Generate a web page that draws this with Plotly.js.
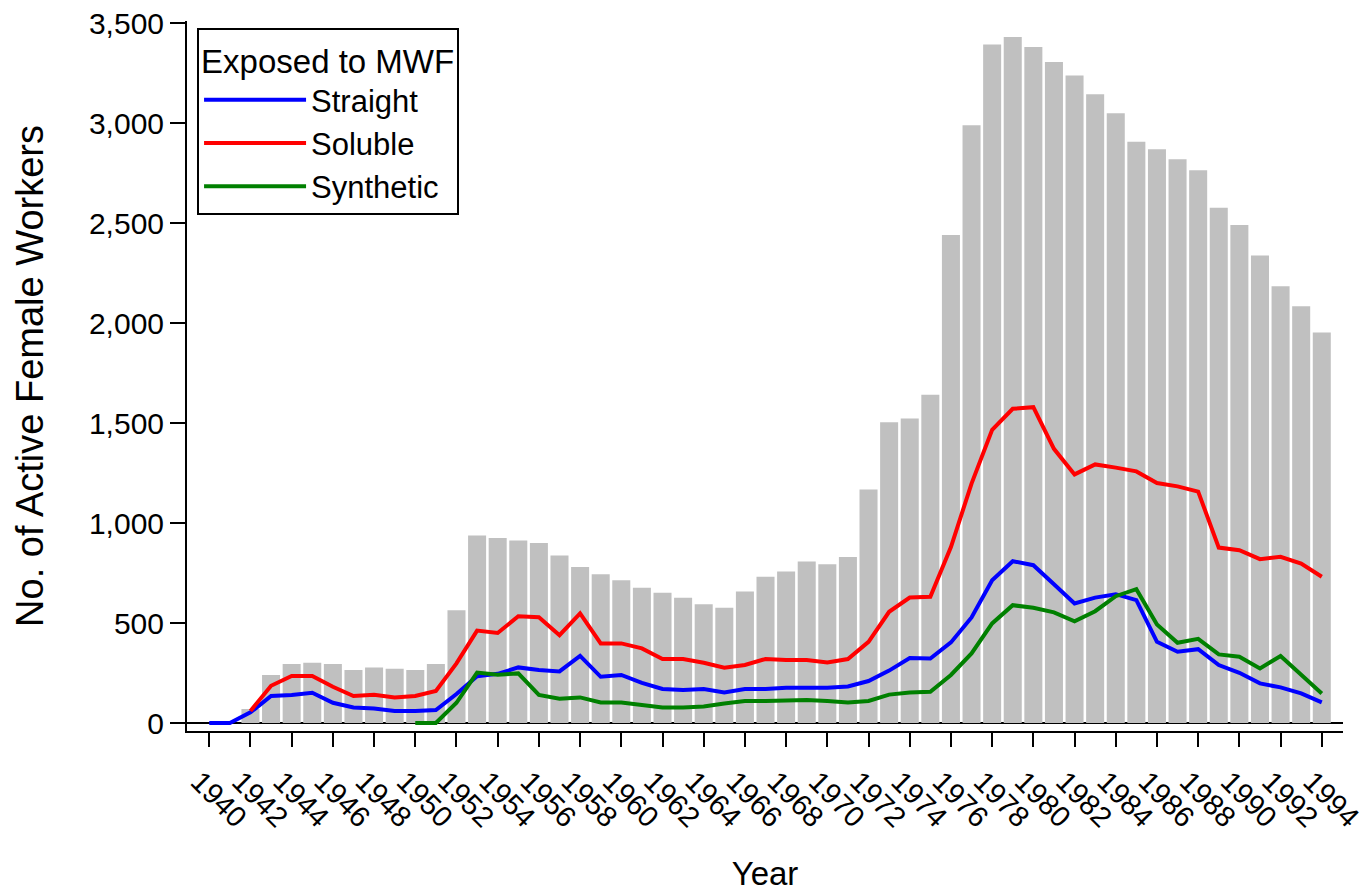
<!DOCTYPE html>
<html>
<head>
<meta charset="utf-8">
<script src="https://cdn.plot.ly/plotly-3.0.1.min.js"></script>
<style>html,body{margin:0;padding:0;background:#fff;}#chart{width:1371px;height:892px;}</style>
</head>
<body>
<div id="chart"></div>
<script>
var years = [1940,1941,1942,1943,1944,1945,1946,1947,1948,1949,1950,1951,1952,1953,1954,1955,1956,1957,1958,1959,1960,1961,1962,1963,1964,1965,1966,1967,1968,1969,1970,1971,1972,1973,1974,1975,1976,1977,1978,1979,1980,1981,1982,1983,1984,1985,1986,1987,1988,1989,1990,1991,1992,1993,1994];
var totalWorkers = [0,0,70,240,295,301,295,265,278,271,265,295,564,938,925,912,900,837,780,744,714,676,651,626,594,576,658,731,757,807,794,830,1167,1504,1523,1641,2440,2989,3393,3430,3380,3305,3237,3144,3049,2906,2869,2819,2764,2576,2490,2338,2184,2084,1952];
var straight = [0,0,53,135,140,151,101,78,73,60,60,65,145,234,246,278,265,258,336,231,240,201,170,165,170,153,170,170,176,176,176,183,210,262,325,322,403,528,714,809,789,694,598,627,644,614,406,356,369,290,251,198,178,148,103];
var soluble = [null,null,60,186,235,235,181,135,141,128,135,160,298,462,450,534,529,439,548,398,398,373,320,320,301,276,290,320,315,315,303,320,406,556,627,631,880,1197,1466,1571,1579,1371,1243,1293,1277,1258,1200,1183,1157,877,864,819,831,797,731];
var synthetic = [null,null,null,null,null,null,null,null,null,null,0,0,101,252,241,248,140,121,128,103,103,90,78,78,83,98,110,110,115,115,110,103,110,142,153,156,240,348,498,589,576,553,508,559,634,669,493,401,421,343,331,273,335,240,148];
var tickYears = [1940,1942,1944,1946,1948,1950,1952,1954,1956,1958,1960,1962,1964,1966,1968,1970,1972,1974,1976,1978,1980,1982,1984,1986,1988,1990,1992,1994];
var tickLabels = tickYears.map(String);
var yTicks = [0,500,1000,1500,2000,2500,3000,3500];

var FONT = 'Arial, "Liberation Sans", sans-serif';

var traces = [
  {type:'bar', x:years, y:totalWorkers, marker:{color:'#c0c0c0', line:{width:0}}, showlegend:false, hoverinfo:'x+y'},
  {type:'scatter', mode:'lines', name:'Straight', x:years, y:straight, line:{color:'#0000ff', width:4}},
  {type:'scatter', mode:'lines', name:'Soluble', x:years, y:soluble, line:{color:'#ff0000', width:4}},
  {type:'scatter', mode:'lines', name:'Synthetic', x:years, y:synthetic, line:{color:'#008000', width:4}}
];

var layout = {
  width:1371, height:892,
  margin:{l:187, r:28, t:21, b:161},
  paper_bgcolor:'#fff', plot_bgcolor:'#fff',
  font:{family:FONT, color:'#000', size:28},
  bargap:0.125,
  showlegend:true,
  legend:{
    x:0.0087, y:0.99, xanchor:'left', yanchor:'top',
    bgcolor:'#fff', bordercolor:'#000', borderwidth:2,
    font:{family:FONT, size:31, color:'#000'},
    title:{text:'Exposed to MWF', font:{family:FONT, size:33, color:'#000'}},
    itemwidth:102, tracegroupgap:0
  },
  xaxis:{
    range:[1938.92, 1995.03],
    tickmode:'array', tickvals:tickYears, ticktext:tickLabels,
    tickangle:45,
    ticks:'outside', ticklen:14, tickwidth:2, tickcolor:'#000',
    tickfont:{family:FONT, size:29, color:'#000'},
    ticklabelshift:-10, ticklabelstandoff:6, ticklabeloverflow:'allow',
    showline:true, linecolor:'#000', linewidth:2,
    showgrid:false, zeroline:false,
    title:{text:'Year', font:{family:FONT, size:33, color:'#000'}, standoff:34}
  },
  yaxis:{
    range:[-40, 3510],
    tickmode:'array', tickvals:yTicks, tickformat:',d',
    ticks:'outside', ticklen:15, tickwidth:2, tickcolor:'#000',
    tickfont:{family:FONT, size:30, color:'#000'},
    showline:true, linecolor:'#000', linewidth:2,
    showgrid:false,
    zeroline:true, zerolinecolor:'#000', zerolinewidth:2.5,
    title:{text:'No. of Active Female Workers', font:{family:FONT, size:38, color:'#000'}, standoff:34}
  }
};

Plotly.newPlot('chart', traces, layout, {displayModeBar:false, staticPlot:true});
</script>
</body>
</html>
